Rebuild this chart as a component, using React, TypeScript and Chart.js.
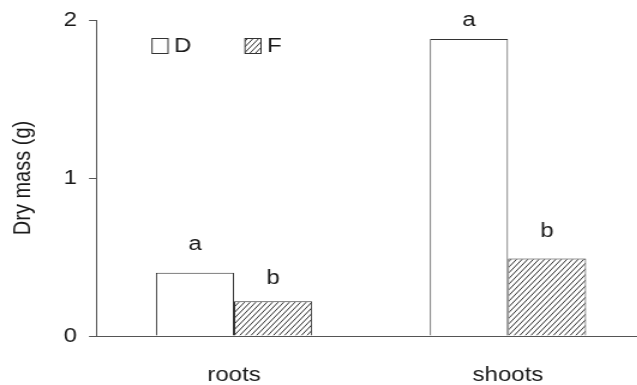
import React, { useEffect, useRef } from 'react';
import { Chart, registerables } from 'chart.js';

Chart.register(...registerables);

const categories = ['roots', 'shoots'];
const seriesLabels = ['D', 'F'];
const dValues = [0.4, 1.88];
const fValues = [0.22, 0.49];
const dLetters = ['a', 'a'];
const fLetters = ['b', 'b'];
const yTickValues = [0, 1, 2];

// the reference figure is horizontally stretched; draw at a narrower internal width and stretch by CSS
const STRETCH = 1.2;
const CSS_W = 660;
const CSS_H = 385;
const INT_W = Math.round(CSS_W / STRETCH);

const FONT = '"Liberation Sans", Arial, sans-serif';
const TEXT = '#1a1a1a';
const AXIS = '#555555';

// gap (px) between bar top and the letter's baseline, per series / category (style)
const LETTER_GAPS = [
  [23, 13],
  [17, 22],
];

function makeHatch(ctx: CanvasRenderingContext2D): CanvasPattern | string {
  const w = 14;
  const h = 17;
  const c = document.createElement('canvas');
  c.width = w;
  c.height = h;
  const g = c.getContext('2d');
  if (!g) return '#fff';
  g.fillStyle = '#ffffff';
  g.fillRect(0, 0, w, h);
  g.strokeStyle = '#1a1a1a';
  g.lineWidth = 0.9;
  g.beginPath();
  for (let k = -3; k <= 3; k++) {
    const x0 = (k * w) / 3;
    g.moveTo(x0, h);
    g.lineTo(x0 + w, 0);
  }
  g.stroke();
  return ctx.createPattern(c, 'repeat') || '#fff';
}

const letterPlugin = {
  id: 'letters',
  afterDatasetsDraw(chart: any) {
    const ctx = chart.ctx;
    const letterSets = [dLetters, fLetters];
    ctx.save();
    ctx.font = `20px ${FONT}`;
    ctx.fillStyle = TEXT;
    ctx.textAlign = 'center';
    ctx.textBaseline = 'alphabetic';
    chart.data.datasets.forEach((_ds: any, i: number) => {
      const meta = chart.getDatasetMeta(i);
      meta.data.forEach((bar: any, j: number) => {
        ctx.fillText(letterSets[i][j], bar.x, bar.y - LETTER_GAPS[i][j]);
      });
    });
    ctx.restore();
  },
};

const legendPlugin = {
  id: 'innerLegend',
  afterDraw(chart: any) {
    const ctx = chart.ctx;
    const starts = [152 / STRETCH, 245 / STRETCH];
    const top = 38;
    const boxW = 16 / STRETCH;
    const boxH = 15;
    ctx.save();
    chart.data.datasets.forEach((ds: any, i: number) => {
      const x = starts[i];
      ctx.fillStyle = ds.backgroundColor;
      ctx.fillRect(x, top, boxW, boxH);
      ctx.strokeStyle = '#333';
      ctx.lineWidth = 1;
      ctx.strokeRect(x, top + 0.5, boxW, boxH);
      ctx.fillStyle = TEXT;
      ctx.font = `20px ${FONT}`;
      ctx.textAlign = 'left';
      ctx.textBaseline = 'middle';
      ctx.fillText(ds.label, x + boxW + 6 / STRETCH, top + boxH / 2 + 1);
    });
    ctx.restore();
  },
};

export default function App() {
  const ref = useRef<HTMLCanvasElement>(null);

  useEffect(() => {
    const canvas = ref.current;
    if (!canvas) return;
    const ctx = canvas.getContext('2d') as CanvasRenderingContext2D;
    const hatch = makeHatch(ctx);
    const chart = new Chart(ctx, {
      type: 'bar',
      data: {
        labels: categories,
        datasets: [
          {
            label: seriesLabels[0],
            data: dValues,
            backgroundColor: '#ffffff',
            borderColor: '#333333',
            borderWidth: 1,
          },
          {
            label: seriesLabels[1],
            data: fValues,
            backgroundColor: hatch as any,
            borderColor: '#333333',
            borderWidth: 1,
          },
        ],
      },
      options: {
        animation: false,
        responsive: false,
        devicePixelRatio: 1,
        layout: {
          padding: { top: 20, right: INT_W - 645 / STRETCH, left: 0, bottom: 0 },
        },
        datasets: {
          bar: { categoryPercentage: 0.57, barPercentage: 1 },
        },
        plugins: {
          legend: { display: false },
          tooltip: { enabled: false },
        },
        scales: {
          x: {
            grid: { display: false, drawTicks: false },
            border: { display: true, color: AXIS, width: 1 },
            ticks: {
              font: { family: FONT, size: 20 },
              color: TEXT,
              padding: 27,
            },
            afterFit(scale: any) {
              scale.height = 49;
            },
          },
          y: {
            min: 0,
            max: 2,
            afterBuildTicks(scale: any) {
              scale.ticks = yTickValues.map((v) => ({ value: v }));
            },
            grid: {
              drawOnChartArea: false,
              drawTicks: true,
              tickLength: 8 / STRETCH,
              color: AXIS,
            },
            border: { display: true, color: AXIS, width: 1 },
            ticks: {
              font: { family: FONT, size: 20 },
              color: TEXT,
              padding: 12 / STRETCH,
            },
            title: {
              display: true,
              text: 'Dry mass (g)',
              font: { family: FONT, size: 20 },
              color: TEXT,
              padding: { top: 23.5 / STRETCH - 12, bottom: 0 },
            },
            afterFit(scale: any) {
              scale.width = 97 / STRETCH;
              scale.paddingTop = 0;
              scale.paddingBottom = 0;
            },
          },
        },
      },
      plugins: [letterPlugin, legendPlugin],
    });
    return () => chart.destroy();
  }, []);

  return (
    <div
      style={{
        position: 'absolute',
        left: 0,
        top: 0,
        width: 637,
        height: 385,
        overflow: 'hidden',
        background: '#fff',
      }}
    >
      <canvas
        ref={ref}
        width={INT_W}
        height={CSS_H}
        style={{ display: 'block', width: CSS_W, height: CSS_H }}
      />
    </div>
  );
}
